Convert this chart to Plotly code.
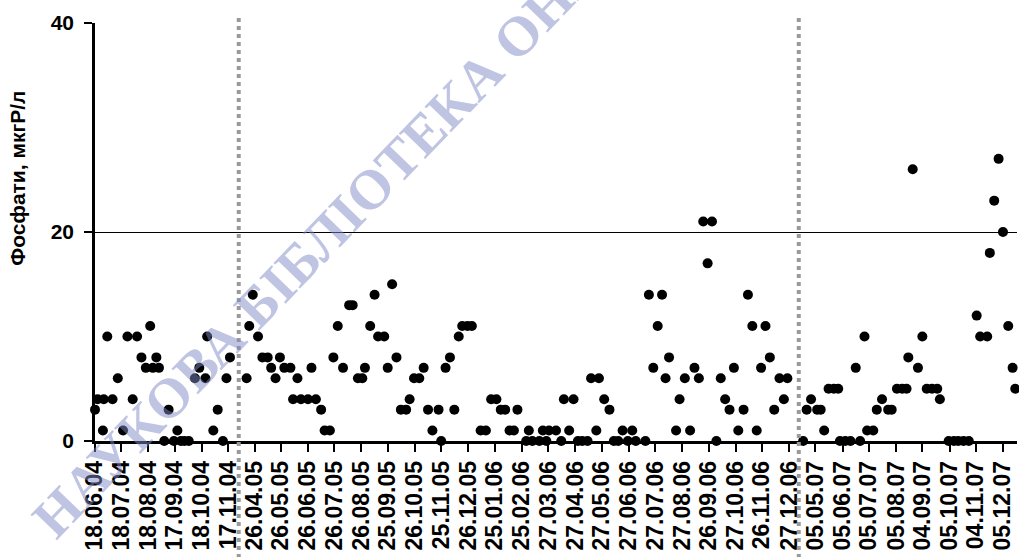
import pandas as pd
import plotly.graph_objects as go

# ---------------- data ----------------
dates_2004 = ["18.06.04", "21.06.04", "27.06.04", "28.06.04", "02.07.04", "08.07.04", "14.07.04", "20.07.04",
              "25.07.04", "31.07.04", "05.08.04", "10.08.04", "15.08.04", "20.08.04", "23.08.04", "27.08.04",
              "30.08.04", "05.09.04", "10.09.04", "16.09.04", "20.09.04", "24.09.04", "28.09.04", "03.10.04",
              "10.10.04", "15.10.04", "22.10.04", "24.10.04", "31.10.04", "05.11.04", "11.11.04", "15.11.04",
              "19.11.04"]
values_2004 = [3, 4, 1, 4, 10, 4, 6, 1, 10, 4, 10, 8, 7, 11, 7, 8, 7, 0, 3, 0, 1, 0, 0, 0, 6, 7, 6, 10, 1, 3,
               0, 6, 8]

dates_2005_06 = ["17.04.05", "20.04.05", "24.04.05", "30.04.05", "05.05.05", "11.05.05", "15.05.05", "20.05.05",
                 "25.05.05", "30.05.05", "06.06.05", "09.06.05", "14.06.05", "18.06.05", "26.06.05", "30.06.05",
                 "05.07.05", "11.07.05", "15.07.05", "21.07.05", "25.07.05", "30.07.05", "05.08.05", "12.08.05",
                 "16.08.05", "22.08.05", "27.08.05", "30.08.05", "05.09.05", "10.09.05", "14.09.05", "21.09.05",
                 "25.09.05", "30.09.05", "05.10.05", "10.10.05", "16.10.05", "20.10.05", "25.10.05", "31.10.05",
                 "05.11.05", "10.11.05", "15.11.05", "22.11.05", "25.11.05", "30.11.05", "05.12.05", "10.12.05",
                 "15.12.05", "19.12.05", "25.12.05", "30.12.05", "09.01.06", "15.01.06", "21.01.06", "27.01.06",
                 "01.02.06", "06.02.06", "11.02.06", "16.02.06", "20.02.06", "02.03.06", "05.03.06", "09.03.06",
                 "17.03.06", "21.03.06", "25.03.06", "28.03.06", "05.04.06", "11.04.06", "14.04.06", "20.04.06",
                 "25.04.06", "30.04.06", "05.05.06", "11.05.06", "15.05.06", "21.05.06", "24.05.06", "30.05.06",
                 "05.06.06", "10.06.06", "15.06.06", "20.06.06", "26.06.06", "01.07.06", "05.07.06", "16.07.06",
                 "20.07.06", "25.07.06", "30.07.06", "04.08.06", "08.08.06", "12.08.06", "20.08.06", "24.08.06",
                 "30.08.06", "05.09.06", "10.09.06", "15.09.06", "20.09.06", "25.09.06", "30.09.06", "05.10.06",
                 "10.10.06", "15.10.06", "20.10.06", "25.10.06", "30.10.06", "05.11.06", "10.11.06", "15.11.06",
                 "20.11.06", "25.11.06", "30.11.06", "05.12.06", "10.12.06", "16.12.06", "21.12.06", "25.12.06"]
values_2005_06 = [6, 11, 14, 10, 8, 8, 7, 6, 8, 7,
                  7, 4, 6, 4, 4, 7, 4, 3, 1, 1,
                  8, 11, 7, 13, 13, 6, 6, 7, 11, 14,
                  10, 10, 7, 15, 8, 3, 3, 4, 6, 6,
                  7, 3, 1, 3, 0, 7, 8, 3, 10, 11,
                  11, 11, 1, 1, 4, 4, 3, 3, 1, 1,
                  3, 0, 1, 0, 0, 1, 0, 1, 1, 0,
                  4, 1, 4, 0, 0, 0, 6, 1, 6, 4,
                  3, 0, 0, 1, 0, 1, 0, 0, 14, 7,
                  11, 14, 6, 8, 1, 4, 6, 1, 7, 6,
                  21, 17, 21, 0, 6, 4, 3, 7, 1, 3,
                  14, 11, 1, 7, 11, 8, 3, 6, 4, 6]

dates_2007 = ["21.04.07", "25.04.07", "30.04.07", "07.05.07", "11.05.07", "15.05.07", "20.05.07", "26.05.07",
              "31.05.07", "02.06.07", "08.06.07", "14.06.07", "20.06.07", "25.06.07", "30.06.07", "03.07.07",
              "10.07.07", "14.07.07", "20.07.07", "27.07.07", "31.07.07", "06.08.07", "12.08.07", "17.08.07",
              "19.08.07", "24.08.07", "30.08.07", "04.09.07", "09.09.07", "15.09.07", "21.09.07", "24.09.07",
              "04.10.07", "10.10.07", "15.10.07", "21.10.07", "27.10.07", "05.11.07", "09.11.07", "17.11.07",
              "20.11.07", "25.11.07", "30.11.07", "05.12.07", "11.12.07", "16.12.07", "19.12.07"]
values_2007 = [0, 3, 4, 3, 3, 1, 5, 5, 5, 0,
               0, 0, 7, 0, 10, 1, 1, 3, 4, 3,
               3, 5, 5, 5, 8, 26, 7, 10, 5, 5,
               5, 4, 0, 0, 0, 0, 0, 12, 10, 10,
               18, 23, 27, 20, 11, 7, 5]

tick_dates = ["18.06.04", "18.07.04", "18.08.04", "17.09.04", "18.10.04", "17.11.04",
              "26.04.05", "26.05.05", "26.06.05", "26.07.05", "26.08.05", "25.09.05", "26.10.05", "25.11.05",
              "26.12.05", "25.01.06", "25.02.06", "27.03.06", "27.04.06", "27.05.06", "27.06.06", "27.07.06",
              "27.08.06", "26.09.06", "27.10.06", "26.11.06", "27.12.06",
              "05.05.07", "05.06.07", "05.07.07", "05.08.07", "04.09.07", "05.10.07", "04.11.07", "05.12.07"]
y_ticks = [0, 20, 40]

# breaks in the time axis (periods without sampling)
gap_starts = ["29.11.04", "07.01.07"]
gap_ends = ["08.04.05", "16.04.07"]
x_start, x_end = "18.06.04", "21.12.07"

y_title = "Фосфати, мкгР/л"
watermark = "НАУКОВА БІБЛІОТЕКА ОНЕУ"

# ---------------- build ----------------
def to_dt(lst):
    return pd.to_datetime(pd.Series(lst), format="%d.%m.%y")

x_all = pd.concat([to_dt(dates_2004), to_dt(dates_2005_06), to_dt(dates_2007)])
y_all = values_2004 + values_2005_06 + values_2007

tick_dt = to_dt(tick_dates)
gs = to_dt(gap_starts)
ge = to_dt(gap_ends)
rbreaks = [dict(bounds=[a.strftime("%Y-%m-%d"), b.strftime("%Y-%m-%d")]) for a, b in zip(gs, ge)]
xr = [to_dt([x_start])[0].strftime("%Y-%m-%d"), to_dt([x_end])[0].strftime("%Y-%m-%d")]
tickvals = [d.strftime("%Y-%m-%d") for d in tick_dt]

FONT = "Liberation Sans, Arial, sans-serif"

fig = go.Figure()
fig.add_trace(go.Scatter(
    x=x_all, y=y_all, mode="markers",
    marker=dict(color="black", size=10, line=dict(width=0)),
    cliponaxis=False, showlegend=False,
))

fig.update_layout(
    width=1019, height=557,
    margin=dict(l=95, r=2, t=23, b=116),
    paper_bgcolor="white", plot_bgcolor="white",
    showlegend=False,
    xaxis=dict(
        type="date", range=xr, rangebreaks=rbreaks,
        tickmode="array", tickvals=tickvals, ticktext=tick_dates,
        tickangle=-90, ticks="outside", ticklen=8, tickwidth=2, tickcolor="black",
        tickfont=dict(family=FONT, size=23, color="black", weight="bold"),
        showline=True, linewidth=2.5, linecolor="black",
        showgrid=False, zeroline=False, automargin=False,
    ),
    xaxis2=dict(
        type="date", range=xr, rangebreaks=rbreaks, overlaying="x", anchor="y",
        tickmode="array", tickvals=tickvals, ticks="inside", ticklen=8, tickwidth=2, tickcolor="black",
        showticklabels=False, showline=False, showgrid=False, zeroline=False,
    ),
    yaxis=dict(
        range=[0, 40], tickmode="array", tickvals=y_ticks,
        ticks="outside", ticklen=8, tickwidth=2, tickcolor="black",
        tickfont=dict(family=FONT, size=21, color="black", weight="bold"),
        ticklabelstandoff=6,
        showline=True, linewidth=2.5, linecolor="black",
        showgrid=True, gridcolor="black", gridwidth=1.3,
        zeroline=False, automargin=False,
    ),
    yaxis2=dict(
        range=[0, 40], overlaying="y", anchor="x", side="left",
        tickmode="array", tickvals=y_ticks, ticks="inside", ticklen=8, tickwidth=2, tickcolor="black",
        showticklabels=False, showline=False, showgrid=False, zeroline=False,
    ),
)

# separators at the time-axis breaks
for a in gs:
    fig.add_shape(type="line", xref="x", yref="paper",
                  x0=a.strftime("%Y-%m-%d"), x1=a.strftime("%Y-%m-%d"), y0=-0.28, y1=1.02,
                  line=dict(color="#9a9a9a", width=4, dash="dot"), layer="above")

# y-axis title
fig.add_annotation(text=y_title, xref="paper", yref="paper", x=-0.084, y=0.629,
                   textangle=-90, showarrow=False, xanchor="center", yanchor="middle",
                   font=dict(family=FONT, size=21, color="black", weight="bold"))

# watermark
fig.add_annotation(text=watermark, xref="paper", yref="paper", x=0.255, y=0.505,
                   textangle=-46, showarrow=False, xanchor="center", yanchor="middle",
                   font=dict(family="Liberation Serif, Times New Roman, serif", size=56,
                             color="rgba(130,138,200,0.5)", weight="bold"))

fig.write_html("out.html", config={"displayModeBar": False},
               post_script="document.body.style.margin='0';")
